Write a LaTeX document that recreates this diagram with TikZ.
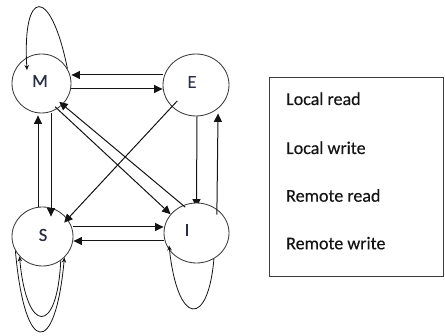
\documentclass[tikz,border=0pt]{standalone}
\usepackage{fontspec}
\setmainfont{Carlito}
\newfontfamily\keyfont{Carlito}[FakeBold=0.35]
\usetikzlibrary{arrows.meta,shapes.geometric,calc,backgrounds}

\definecolor{inkc}{RGB}{20,20,20}
\definecolor{rimc}{RGB}{60,60,60}
\definecolor{letterc}{RGB}{40,45,70}

\begin{document}
\begin{tikzpicture}[x=1pt,y=-1pt,
  state/.style={draw=rimc, fill=white, line width=0.85pt, ellipse, inner sep=0pt},
  letter/.style={font=\keyfont\fontsize{18.5}{20}\selectfont, text=letterc, inner sep=0pt},
  keytext/.style={font=\keyfont\fontsize{18}{20}\selectfont, text=inkc, inner sep=0pt, anchor=base west},
  arr/.style={draw=inkc, line width=1pt, -{Triangle[length=8.5pt,width=8pt]}},
  looparr/.style={draw=inkc, line width=0.8pt, -{Stealth[length=5pt,width=4.5pt]}},
]
\useasboundingbox (0,0) rectangle (445,336);

% states
\node[state, minimum width=59pt, minimum height=59pt] (M) at (41.5,83.5) {};
\node[state, minimum width=66pt, minimum height=62pt] (E) at (196,85) {};
\node[state, minimum width=61pt, minimum height=59pt] (S) at (42.5,236.5) {};
\node[state, minimum width=65pt, minimum height=60pt] (I) at (196.5,233) {};

\node[letter] (Mt) at (40,81) {M};
\node[letter] (Et) at (192,82) {E};
\node[letter] (St) at (43,235) {S};
\node[letter] (It) at (187,230) {I};

% E -> I, partly hidden behind I
\begin{scope}[on background layer]
  \draw[arr, shorten >=-5pt] ([xshift=1pt]E.south) -- (I.north);
\end{scope}

% horizontal transitions
\draw[arr] ([yshift=10pt]E.west) -- ([yshift=8.5pt]M.east);
\draw[arr] ([yshift=-5.5pt]M.east) -- ([yshift=-4pt]E.west);
\draw[arr] ([yshift=9.5pt]S.east) -- ([yshift=6pt]I.west);
\draw[arr] ([yshift=-8pt]I.west) -- ([yshift=-4.5pt]S.east);

% vertical transitions
\draw[arr, shorten >=2pt] ([xshift=-4.5pt]S.north) -- ([xshift=-3.5pt]M.south);
\draw[arr, shorten >=-10pt] ([xshift=9.5pt]M.south) -- ([xshift=8.5pt]S.north);
\draw[arr, shorten <=-12pt, shorten >=-3pt] ([xshift=20.5pt]I.north) -- ([xshift=22pt]E.south);

% diagonal transitions
\draw[arr, shorten <=-3pt] (M.302) -- (I.144);
\draw[arr, shorten <=-3pt, shorten >=-4.5pt] (I.116) -- (M.315);
\draw[arr, shorten <=-8pt, shorten >=-5pt] (E.222) -- (S.35);

% self loops
\draw[looparr] (M.30) .. controls +(-17,-84) and +(-5,-82) .. ($(M.center)+(-14.5,-13.5)$);
\draw[looparr] (S.208) .. controls +(9.4,106.7) and +(-9.1,99.7) .. (S.316);
\draw[looparr] (S.307) .. controls +(-3.4,74.7) and +(7.1,78.8) .. (S.221);
\draw[looparr, shorten >=-5pt] (I.304) .. controls +(-5.7,68.6) and +(8.1,76.7) .. (I.213);

% key
\node[draw=rimc, line width=0.85pt, minimum width=174pt, minimum height=199pt, inner sep=0pt] (key) at (356,176.5) {};
\node[keytext] (k1) at (286,105) {Local read};
\node[keytext] (k2) at (286,154) {Local write};
\node[keytext] (k3) at (286,201.7) {Remote read};
\node[keytext] (k4) at (286,249.3) {Remote write};
\end{tikzpicture}
\end{document}
